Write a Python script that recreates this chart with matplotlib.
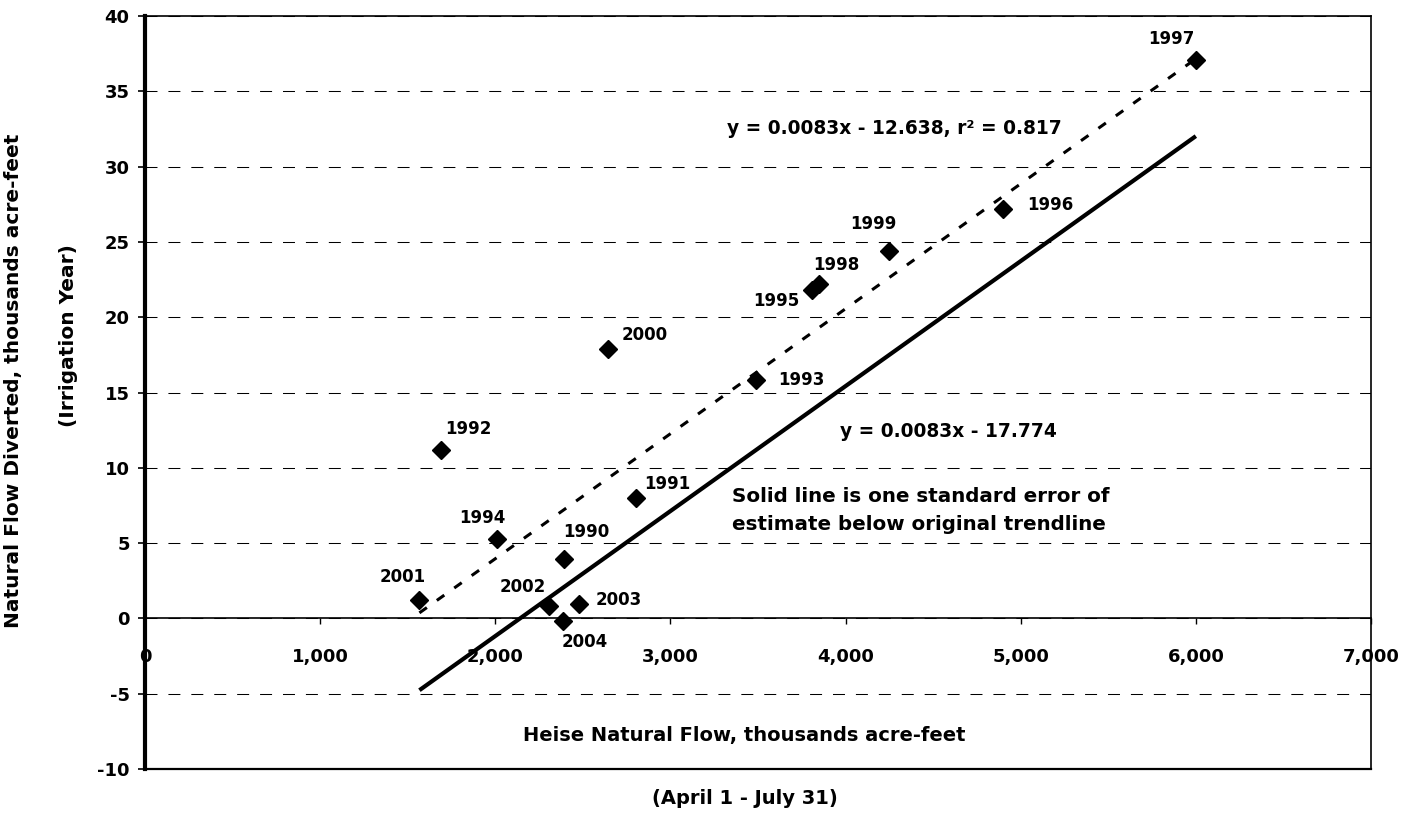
import matplotlib
matplotlib.use("Agg")
import matplotlib.pyplot as plt

# Heise natural flow (Apr 1 - Jul 31) vs natural flow diverted, by irrigation year
years = [1990, 1991, 1992, 1993, 1994, 1995, 1996, 1997,
         1998, 1999, 2000, 2001, 2002, 2003, 2004]
heise_flow = [2390, 2805, 1690, 3490, 2012, 3810, 4900, 6000,
              3850, 4250, 2645, 1567, 2308, 2479, 2385]
diverted = [3.96, 7.97, 11.2, 15.8, 5.3, 21.8, 27.2, 37.07,
            22.2, 24.4, 17.9, 1.2, 0.8, 0.93, -0.15]

# regression line and the line one standard error below it
slope = 0.0083
intercept_fit = -12.638
intercept_low = -17.774
r_squared = 0.817

x_ticks = [0, 1000, 2000, 3000, 4000, 5000, 6000, 7000]
y_ticks = [-10, -5, 0, 5, 10, 15, 20, 25, 30, 35, 40]

# where each year label sits relative to its point (points)
label_offsets = {
    1990: (16.6, 19.4), 1991: (22.3, 10.1), 1992: (19.4, 15.1),
    1993: (32.4, 0.0), 1994: (-10.8, 15.1), 1995: (-25.9, -7.9),
    1996: (33.8, 2.9), 1997: (-17.3, 15.1), 1998: (12.2, 13.7),
    1999: (-11.5, 19.4), 2000: (25.9, 10.1), 2001: (-12.0, 16.6),
    2002: (-19.4, 13.7), 2003: (28.8, 2.9), 2004: (15.8, -15.1),
}

plt.rcParams['font.family'] = ['DejaVu Sans']
plt.rcParams['font.weight'] = 'bold'

fig = plt.figure(figsize=(14.06, 8.18), dpi=100)
ax = fig.add_axes([0.1031, 0.0599, 0.872, 0.9205])

ax.set_xlim(0, 7000)
ax.set_ylim(-10, 40)

# horizontal dashed gridlines
ax.set_yticks(y_ticks)
ax.grid(axis='y', color='black', linewidth=0.75, linestyle=(0, (11.5, 10.5)))
ax.set_axisbelow(True)

# trend lines over the range of the data
x0, x1 = min(heise_flow), max(heise_flow)
ax.plot([x0, x1], [slope * x0 + intercept_fit, slope * x1 + intercept_fit],
        color='black', linewidth=2.2, linestyle=(0, (3.0, 4.0)), zorder=3)
ax.plot([x0, x1], [slope * x0 + intercept_low, slope * x1 + intercept_low],
        color='black', linewidth=3.0, solid_capstyle='butt', zorder=3)

ax.plot(heise_flow, diverted, linestyle='none', marker='D', markersize=9,
        color='black', zorder=4)

for yr, xv, yv in zip(years, heise_flow, diverted):
    dx, dy = label_offsets[yr]
    ax.annotate(str(yr), (xv, yv), xytext=(dx, dy), textcoords='offset points',
                ha='center', va='center', fontsize=12, fontweight='bold')

# axes: x axis runs along y = 0, frame closes at y = -10
ax.spines['bottom'].set_position(('data', 0))
ax.spines['bottom'].set_linewidth(1.2)
ax.spines['left'].set_linewidth(3.0)
ax.spines['top'].set_linewidth(1.2)
ax.spines['right'].set_linewidth(1.2)
ax.plot([0, 1], [0, 0], transform=ax.transAxes, color='black',
        linewidth=1.6, clip_on=False, zorder=5)

ax.set_xticks(x_ticks)
ax.set_xticklabels([f"{v:,}" for v in x_ticks])
ax.set_yticklabels([str(v) for v in y_ticks])
ax.tick_params(axis='x', direction='out', length=4, width=1, pad=17.5,
               labelsize=13)
ax.tick_params(axis='y', direction='out', length=5, width=1.2, pad=6,
               labelsize=13)

ax.text(4279, 32.5, f"y = {slope}x - {abs(intercept_fit)}, r\u00b2 = {r_squared}",
        ha='center', va='center', fontsize=13.4, fontweight='bold')
ax.text(4587, 12.4, f"y = {slope}x - {abs(intercept_low)}",
        ha='center', va='center', fontsize=13.4, fontweight='bold')
ax.text(3350, 7.17, "Solid line is one standard error of\nestimate below original trendline",
        ha='left', va='center', fontsize=14.3, fontweight='bold', linespacing=1.55)

ax.text(3420, -7.8, "Heise Natural Flow, thousands acre-feet",
        ha='center', va='center', fontsize=14, fontweight='bold')
fig.text(745 / 1406, 1 - 799 / 818, "(April 1 - July 31)",
         ha='center', va='center', fontsize=14, fontweight='bold')

fig.text(14 / 1406, 1 - 381 / 818, "Natural Flow Diverted, thousands acre-feet",
         rotation=90, ha='center', va='center', fontsize=14.5, fontweight='bold')
fig.text(68 / 1406, 1 - 336 / 818, "(Irrigation Year)",
         rotation=90, ha='center', va='center', fontsize=14.5, fontweight='bold')

fig.savefig("out.png", dpi=100)
